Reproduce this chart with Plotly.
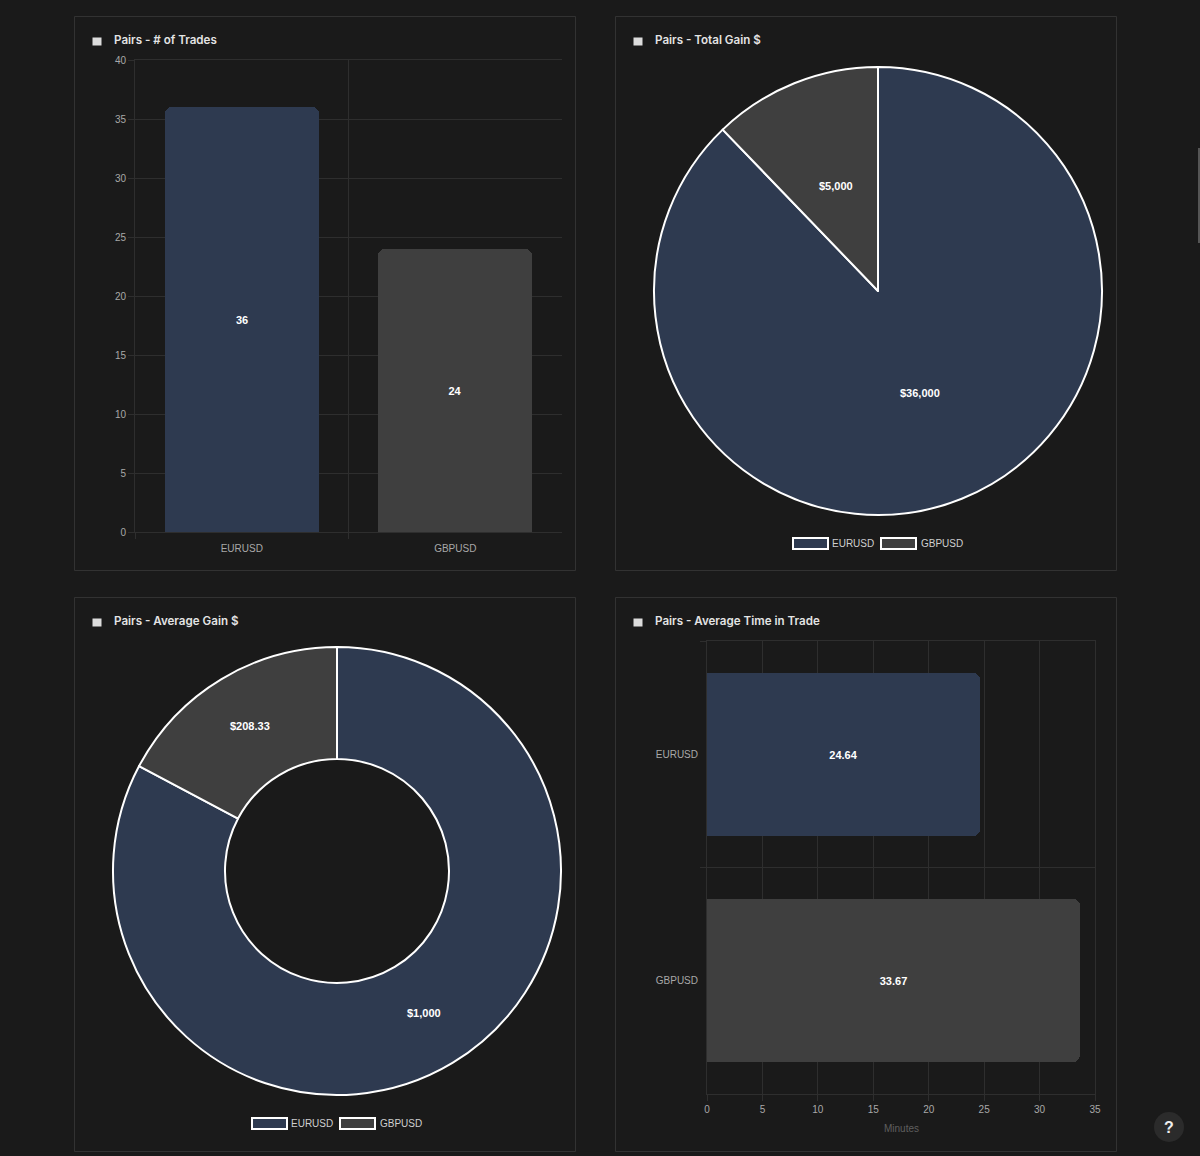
import numpy as np
import plotly.graph_objects as go

W, H = 1200, 1156

pairs = ['EURUSD', 'GBPUSD']
trades = [36, 24]
total_gain = [36000, 5000]
avg_gain = [1000, 208.33]
avg_time = [24.64, 33.67]

total_gain_labels = ['$36,000', '$5,000']
avg_gain_labels = ['$1,000', '$208.33']

titles = ['Pairs - # of Trades', 'Pairs - Total Gain $',
          'Pairs - Average Gain $', 'Pairs - Average Time in Trade']

BG = '#1a1a1a'
NAVY = '#2e3a50'
GRAY = '#3f3f3f'
GRID = '#2e2e2e'
TICK = '#a8a8a8'
LABEL_FONT = 'Liberation Sans'
TITLE_FONT = 'Inter'
colors = [NAVY, GRAY]


def px_x(x):
    return x / W


def px_y(y):
    return 1 - y / H


def dom_x(a, b):
    return [px_x(a), px_x(b)]


def dom_y(top, bottom):
    return [px_y(bottom), px_y(top)]


def paper_rect(x0, y0, x1, y1, **kw):
    return dict(type='rect', xref='paper', yref='paper',
                x0=px_x(x0), x1=px_x(x1), y0=px_y(y0), y1=px_y(y1), **kw)


def text_at(x, y, text, size=10, color='#cfcfcf', family=LABEL_FONT, anchor='left', weight=400):
    return dict(xref='paper', yref='paper', x=px_x(x), y=px_y(y), text=text, showarrow=False,
                xanchor=anchor, yanchor='middle', borderpad=0, borderwidth=0,
                font=dict(family=family, size=size, color=color, weight=weight))


def pie_labels(values, labels, cx, cy, r):
    # datalabels sit at the middle of each slice, half way through the ring
    out = []
    vals = np.array(values, dtype=float)
    ends = np.cumsum(vals) / vals.sum()
    mids = ends - vals / vals.sum() / 2
    for m, lab in zip(mids, labels):
        a = m * 2 * np.pi
        out.append(text_at(cx + r * np.sin(a), cy - r * np.cos(a) - 1.5, lab, size=11, color='white',
                           anchor='center', weight=700))
    return out


fig = go.Figure()

# bar: number of trades
fig.add_trace(go.Bar(x=pairs, y=trades, width=0.72, xaxis='x', yaxis='y',
                     marker=dict(color=colors, cornerradius=7, line_width=0),
                     text=[str(v) for v in trades], textposition='inside',
                     insidetextanchor='middle', textangle=0,
                     textfont=dict(family=LABEL_FONT, size=11, color='white', weight=700)))

# pie: total gain
fig.add_trace(go.Pie(labels=pairs, values=total_gain, sort=False, direction='clockwise',
                     domain=dict(x=dom_x(654, 1102), y=dom_y(67, 515)),
                     marker=dict(colors=colors, line=dict(color='white', width=2)),
                     textinfo='none'))

# doughnut: average gain
fig.add_trace(go.Pie(labels=pairs, values=avg_gain, sort=False, direction='clockwise', hole=0.5,
                     domain=dict(x=dom_x(113, 561), y=dom_y(647, 1095)),
                     marker=dict(colors=colors, line=dict(color='white', width=2)),
                     textinfo='none'))

# horizontal bar: average time
fig.add_trace(go.Bar(y=pairs, x=avg_time, orientation='h', width=0.72, xaxis='x2', yaxis='y2',
                     marker=dict(color=colors, cornerradius=7, line_width=0),
                     text=[f'{v:.2f}' for v in avg_time], textposition='inside',
                     insidetextanchor='middle', textangle=0,
                     textfont=dict(family=LABEL_FONT, size=11, color='white', weight=700)))

axis_style = dict(gridcolor=GRID, gridwidth=1, tickcolor=GRID, ticklen=6, ticks='outside',
                  zeroline=False, showline=True, linecolor=GRID, linewidth=1,
                  layer='below traces', automargin=False,
                  tickfont=dict(family=LABEL_FONT, size=10, color=TICK))

shapes = []
annotations = []

# card outlines, title markers and titles
cards = [(74.5, 16.5), (615.5, 16.5), (74.5, 597.5), (615.5, 597.5)]
for (cx, cy), title in zip(cards, titles):
    shapes.append(paper_rect(cx, cy, cx + 501, cy + 554, line=dict(color='#323232', width=1),
                             fillcolor='rgba(0,0,0,0)', layer='below'))
    shapes.append(paper_rect(cx + 18, cy + 21, cx + 27, cy + 29, line_width=0, fillcolor='#dcdcdc'))
    annotations.append(text_at(cx + 39.5, cy + 23.8, title, size=11.6, color='#e4e4e4',
                               family=TITLE_FONT, weight=600))

annotations += pie_labels(total_gain, total_gain_labels, 878, 291, 112)
annotations += pie_labels(avg_gain, avg_gain_labels, 337, 871, 168)

# chart.js style legends under the round charts
for dx, dy in [(0, 0), (-541, 580)]:
    for sx, tx, name, col in zip([793, 881], [832, 921], pairs, colors):
        shapes.append(paper_rect(sx + dx, 538 + dy, sx + 35 + dx, 549 + dy,
                                 line=dict(color='white', width=2), fillcolor=col))
        annotations.append(text_at(tx + dx, 543.5 + dy, name))

# no tick at the far right of the first chart
shapes.append(paper_rect(559, 533, 565, 541, line_width=0, fillcolor=BG))

# axis title, help button, page scrollbar sliver
annotations.append(text_at(901, 1128, 'Minutes', color='#5f5f5f', anchor='center'))
shapes.append(dict(type='circle', xref='paper', yref='paper', x0=px_x(1154), x1=px_x(1184),
                   y0=px_y(1142), y1=px_y(1112), line_width=0, fillcolor='#2b2b2b'))
annotations.append(text_at(1169, 1127, '?', size=16, color='#eeeeee', anchor='center', weight=700))
shapes.append(paper_rect(1198, 148, 1200, 243, line_width=0, fillcolor='#555555'))

fig.update_layout(
    width=W, height=H, autosize=False,
    margin=dict(l=0, r=0, t=0, b=0, autoexpand=False),
    paper_bgcolor=BG, plot_bgcolor=BG, showlegend=False, bargap=0,
    xaxis=dict(domain=dom_x(135, 562), anchor='y', tickson='boundaries', mirror=True,
               ticklabelstandoff=7, **axis_style),
    yaxis=dict(domain=dom_y(60, 532), anchor='x', range=[0, 40], dtick=5, ticklabelstandoff=0,
               **axis_style),
    xaxis2=dict(domain=dom_x(707, 1095), anchor='y2', range=[0, 35], dtick=5, mirror=True,
                **axis_style),
    yaxis2=dict(domain=dom_y(641, 1094), anchor='x2', autorange='reversed', mirror=True,
                tickson='boundaries', ticklabelstandoff=6, **axis_style),
    shapes=shapes, annotations=annotations,
)

fig.write_html('out.html', config=dict(displayModeBar=False),
               post_script="document.body.style.margin='0';document.body.style.background='#1a1a1a';")
